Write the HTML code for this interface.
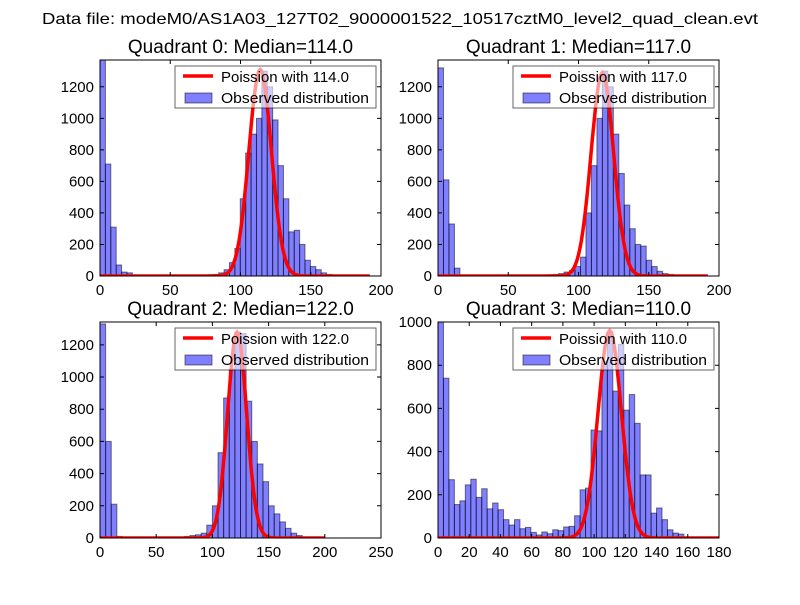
<!DOCTYPE html>
<html><head><meta charset="utf-8"><style>
body{margin:0;background:#fff}
svg{font-family:"Liberation Sans","DejaVu Sans",sans-serif}
</style></head><body>
<svg id="c" width="800" height="600"></svg>
<script>
const q0Counts=[1370,710,310,70,25,20,0,0,0,0,0,0,0,0,0,0,0,0,0,5,8,10,20,40,85,175,490,780,900,1000,1300,1200,990,700,490,280,290,200,100,60,40,20,10,5,3,0,0,0,0,0];
const q1Counts=[1320,610,330,50,0,0,0,0,0,0,0,0,0,0,0,0,0,0,0,5,8,10,15,25,35,60,120,400,700,1000,1300,1200,900,650,450,300,200,190,100,60,30,15,10,5,0,0,0,0,0,0];
const q2Counts=[1330,600,210,10,0,0,0,0,0,0,0,0,0,0,0,10,15,20,30,80,200,530,870,1050,1280,1270,850,600,460,350,200,150,100,60,30,15,5,0,0,0];
const q3Counts=[1000,740,270,155,172,246,272,188,228,135,162,131,85,60,85,43,49,26,14,28,20,38,34,51,54,103,223,231,500,496,816,955,680,896,592,664,531,292,292,115,139,85,38,23,18];
const binWidths=[3.84,3.9,5,3.5];
const medians=[114,117,122,110];
const widths=[8,8,8.5,7.5];
const peaks=[1310,1290,1280,960];
const titles=["Quadrant 0: Median=114.0","Quadrant 1: Median=117.0","Quadrant 2: Median=122.0","Quadrant 3: Median=110.0"];
const xTicks=[[0,50,100,150,200],[0,50,100,150,200],[0,50,100,150,200,250],[0,20,40,60,80,100,120,140,160,180]];
const yTicks=[[0,200,400,600,800,1000,1200],[0,200,400,600,800,1000,1200],[0,200,400,600,800,1000,1200],[0,200,400,600,800,1000]];
const xMaxes=[200,200,250,180];
const yMaxes=[1370,1370,1342,1000];
const curveEnds=[192,192,200,180];
const counts=[q0Counts,q1Counts,q2Counts,q3Counts];
const boxes=[[100,60],[438,60],[100,322],[438,322]];
const W=281,H=216;
const NS="http://www.w3.org/2000/svg";
const svg=document.getElementById('c');
function mk(t,a,p){const e=document.createElementNS(NS,t);for(const k in a)e.setAttribute(k,a[k]);(p||svg).appendChild(e);return e;}
const st=mk('text',{x:42,y:24,'font-size':16,textLength:716,lengthAdjust:'spacingAndGlyphs'});
st.textContent="Data file: modeM0/AS1A03_127T02_9000001522_10517cztM0_level2_quad_clean.evt";

for(let p=0;p<4;p++){
  const [x0,y0]=boxes[p];
  const g=mk('g',{});
  
  const xs=v=>x0+v/xMaxes[p]*W, ys=v=>y0+H-Math.min(v,yMaxes[p])/yMaxes[p]*H;
  mk('defs',{},g).innerHTML=`<clipPath id="cl${p}"><rect x="${x0}" y="${y0}" width="${W}" height="${H}"/></clipPath>`;
  const bg=mk('g',{'clip-path':`url(#cl${p})`},g);
  counts[p].forEach((c,i)=>{if(c<=0)return;const b=mk('rect',{x:xs(i*binWidths[p]),y:ys(c),width:xs((i+1)*binWidths[p])-xs(i*binWidths[p]),height:y0+H-ys(c),fill:'rgba(0,0,255,0.5)',stroke:'rgba(0,0,0,0.5)','stroke-width':1},bg);
    });
  const mu=medians[p],sd=widths[p];let d='';
  for(let k=0;k<=curveEnds[p];k++){d+=(k?'L':'M')+xs(k).toFixed(1)+','+ys(peaks[p]*Math.exp(-0.5*((k-mu)/sd)**2)).toFixed(1);}
  const ln=mk('path',{d,fill:'none',stroke:'#f00','stroke-width':3.5},bg);
  
  mk('rect',{x:x0,y:y0,width:W,height:H,fill:'none',stroke:'#000','stroke-width':1},g);
  xTicks[p].forEach(t=>{const x=xs(t);mk('path',{d:`M${x},${y0+H}v-4M${x},${y0}v4`,stroke:'#000'},g);
    const tx=mk('text',{x,y:y0+H+19,'text-anchor':'middle','font-size':15},g);tx.textContent=t;
    });
  yTicks[p].forEach(t=>{const y=ys(t);mk('path',{d:`M${x0},${y}h4M${x0+W},${y}h-4`,stroke:'#000'},g);
    const tx=mk('text',{x:x0-6,y:y+5,'text-anchor':'end','font-size':15},g);tx.textContent=t;
    });
  const ti=mk('text',{x:x0+W/2,y:y0-7,'text-anchor':'middle','font-size':19},g);ti.textContent=titles[p];
  
  const lg=mk('g',{},g);
  mk('rect',{x:x0+75,y:y0+6,width:201,height:42,fill:'rgba(255,255,255,0.6)',stroke:'rgba(0,0,0,0.6)','stroke-width':1},lg);
  mk('path',{d:`M${x0+83},${y0+16}h30`,stroke:'#f00','stroke-width':3.5},lg);
  mk('rect',{x:x0+85,y:y0+33,width:27,height:10,fill:'rgba(0,0,255,0.5)',stroke:'rgba(0,0,0,0.5)'},lg);
  const l1=mk('text',{x:x0+121,y:y0+22,'font-size':14.5,textLength:128,lengthAdjust:'spacingAndGlyphs'},lg);l1.textContent="Poission with "+mu.toFixed(1);
  const l2=mk('text',{x:x0+121,y:y0+43,'font-size':14.5,textLength:148,lengthAdjust:'spacingAndGlyphs'},lg);l2.textContent="Observed distribution";
}
</script>
</body></html>
